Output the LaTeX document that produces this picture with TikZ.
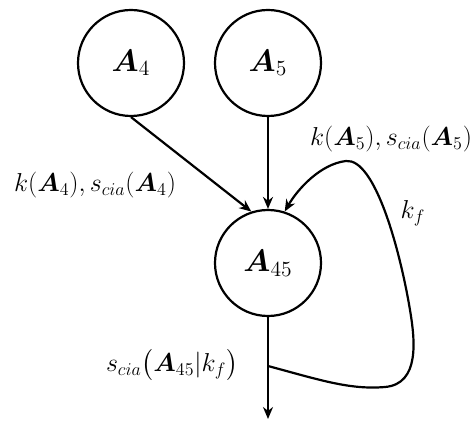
\documentclass[tikz,border=0pt]{standalone}
\usepackage{graphicx}
\usepackage{amsmath,bm}
\usetikzlibrary{arrows.meta}
\newcommand{\lbltxt}[1]{\scalebox{1.5}{$#1$}}
\newcommand{\statetxt}[1]{\scalebox{1.8}{$#1$}}
\begin{document}
\begin{tikzpicture}[x=1pt,y=1pt,
  every node/.style={font=\fontsize{17.28}{20}\selectfont},
  state/.style={circle,draw,line width=2.2pt,minimum size=106pt,inner sep=0pt},
  conn/.style={line width=2.2pt,-{Stealth[length=12pt,width=10pt]}},
  lbl/.style={inner sep=1pt}]
\useasboundingbox (0,0) rectangle (473,420);
\node[state] (A4) at (131,357) {\statetxt{\bm{A}_4}};
\node[state] (A5) at (268,357) {\statetxt{\bm{A}_5}};
\node[state] (A45) at (268,157) {\statetxt{\bm{A}_{45}}};
\coordinate (out) at (268,1);
\coordinate (m) at (268,54);
\coordinate (b) at (385,33);
\coordinate (r) at (410,110);
\coordinate (p) at (346,259);
\draw[conn] (A4.south) -- (A45.108);
\draw[conn] (A5.south) -- (A45.north);
\draw[conn] (A45.south) -- (out);
\draw[conn] (m) .. controls (320,40) and (350,30) .. (b)
  .. controls (420,36) and (415,80) .. (r)
  .. controls (400,170) and (375,262) .. (p)
  .. controls (320,256) and (297,230) .. (A45.72);
\node[lbl] (l5) at (391,281) {\lbltxt{k(\bm{A}_5), s_{cia}(\bm{A}_5)}};
\node[lbl] (l4) at (95,235) {\lbltxt{k(\bm{A}_4), s_{cia}(\bm{A}_4)}};
\node[lbl] (lk) at (413,207) {\lbltxt{k_f}};
\node[lbl] (ls) at (172,55) {\lbltxt{s_{cia}\big(\bm{A}_{45}|k_f\big)}};
\end{tikzpicture}
\end{document}
